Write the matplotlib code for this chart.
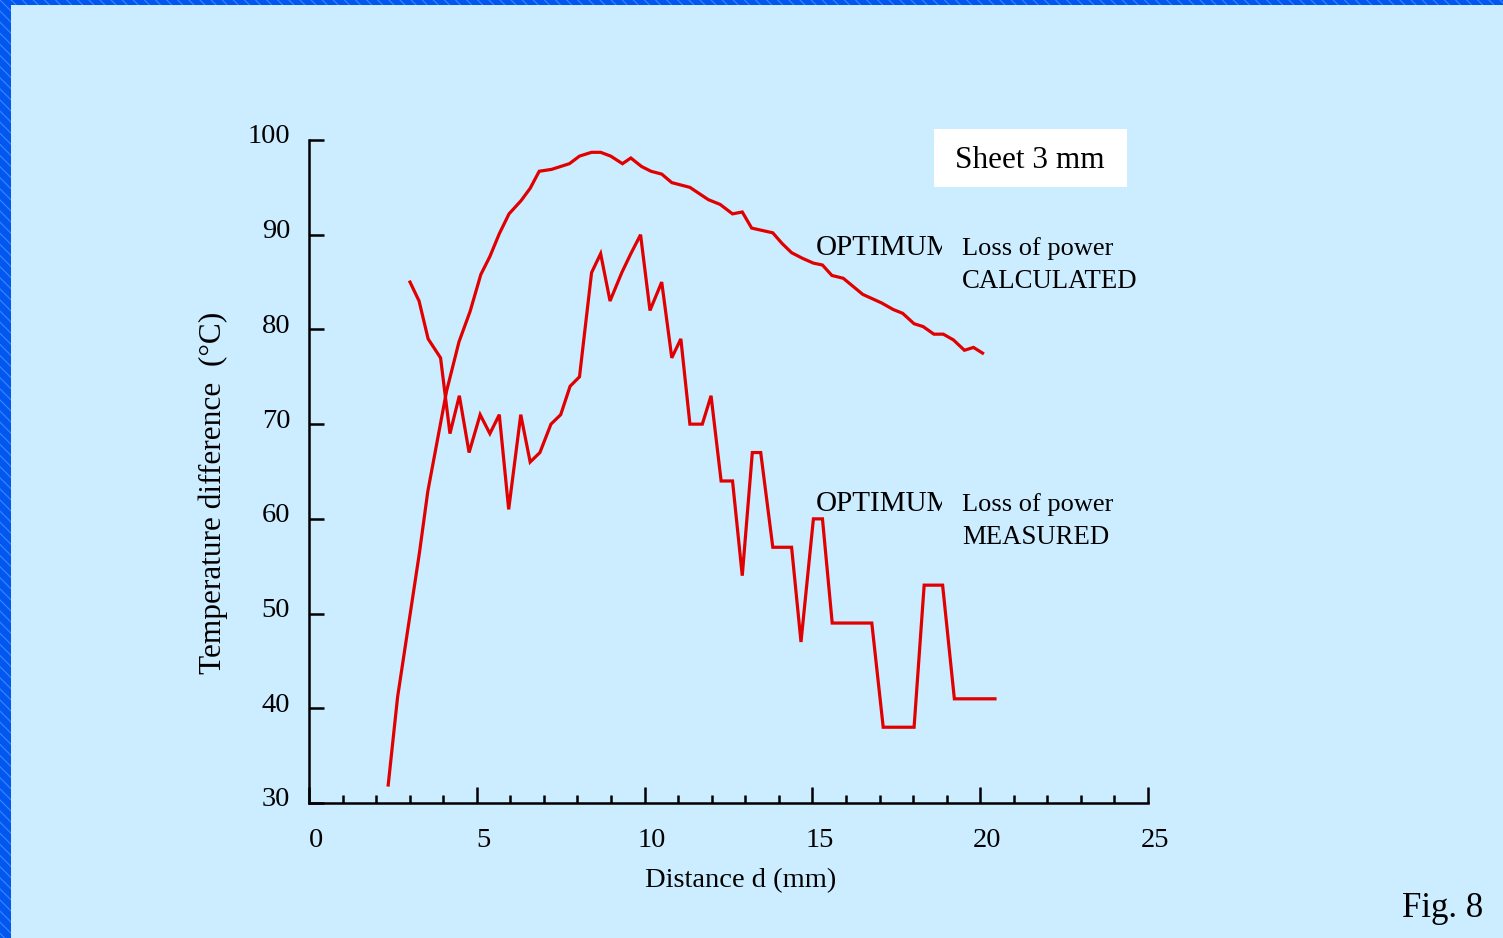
import matplotlib
matplotlib.use("Agg")
import matplotlib.pyplot as plt
from matplotlib.patches import Rectangle
from matplotlib.transforms import ScaledTranslation, Bbox

# valores
calc_x = [2.36, 2.64, 3.29, 3.54, 4.1, 4.47, 4.80, 5.12, 5.39, 5.67, 5.96, 6.32, 6.59,
          6.86, 7.23, 7.76, 8.06, 8.42, 8.69, 8.99, 9.34, 9.59, 9.91, 10.19, 10.51,
          10.81, 11.35, 11.9, 12.25, 12.62, 12.91, 13.19, 13.82, 14.09, 14.38, 14.71,
          15.03, 15.3, 15.58, 15.92, 16.5, 17.06, 17.41, 17.69, 18.03, 18.30, 18.62,
          18.9, 19.2, 19.53, 19.8, 20.07]
calc_y = [31.9, 41.2, 56.4, 62.9, 73.5, 78.7, 81.9, 85.8, 87.7, 90.1, 92.2, 93.6, 94.9,
          96.7, 96.9, 97.5, 98.3, 98.7, 98.7, 98.3, 97.5, 98.1, 97.2, 96.7, 96.4,
          95.5, 95.0, 93.7, 93.2, 92.2, 92.4, 90.7, 90.2, 89.1, 88.1, 87.5,
          87.0, 86.8, 85.7, 85.4, 83.7, 82.8, 82.1, 81.7, 80.6, 80.3, 79.5,
          79.5, 78.9, 77.8, 78.1, 77.5]

meas_x = [3.01, 3.28, 3.55, 3.92, 4.2, 4.48, 4.77, 5.1, 5.39, 5.67, 5.95, 6.31, 6.59,
          6.88, 7.21, 7.5, 7.78, 8.06, 8.42, 8.69, 8.97, 9.32, 9.59, 9.88, 10.16,
          10.51, 10.81, 11.08, 11.35, 11.72, 11.98, 12.28, 12.62, 12.91, 13.21, 13.46,
          13.82, 14.38, 14.66, 15.03, 15.3, 15.59, 16.77, 17.11, 18.03, 18.33, 18.88,
          19.23, 20.44]
meas_y = [85, 83, 79, 77, 69, 73, 67, 71, 69, 71, 61, 71, 66,
          67, 70, 71, 74, 75, 86, 88, 83, 86, 88, 90, 82,
          85, 77, 79, 70, 70, 73, 64, 64, 54, 67, 67,
          57, 57, 47, 60, 60, 49, 49, 38, 38, 53, 53,
          41, 41]

x_ticks = [0, 5, 10, 15, 20, 25]
y_ticks = [30, 40, 50, 60, 70, 80, 90, 100]

plt.rcParams["font.family"] = ["Liberation Serif", "DejaVu Serif"]
plt.rcParams["hatch.color"] = "#3f84ff"
plt.rcParams["hatch.linewidth"] = 0.8

W, H = 1503, 938
fig = plt.figure(figsize=(W / 100, H / 100), dpi=100, facecolor="#ccecff")

# moldura azul (esquerda e topo)
fig.patches.append(Rectangle((0, 0), 11 / W, 1, transform=fig.transFigure,
                             facecolor="#0058f0", hatch="\\\\\\", linewidth=0, zorder=0))
fig.patches.append(Rectangle((0, 1 - 5 / H), 1, 5 / H, transform=fig.transFigure,
                             facecolor="#0058f0", hatch="\\\\\\", linewidth=0, zorder=0))

ax = fig.add_axes([309 / W, 1 - 803 / H, 839 / W, 663 / H])
ax.set_facecolor("none")

ax.plot(calc_x, calc_y, color="#e00000", lw=2.3, solid_joinstyle="miter")
ax.plot(meas_x, meas_y, color="#e00000", lw=2.3, solid_joinstyle="miter")

ax.set_xlim(0, 25)
ax.set_ylim(30, 100)
ax.set_xticks(x_ticks)
ax.set_xticks(range(0, 26), minor=True)
ax.set_yticks(y_ticks)
ax.set_xticklabels([str(v) for v in x_ticks])
ax.set_yticklabels([str(v) for v in y_ticks])

for s in ["top", "right"]:
    ax.spines[s].set_visible(False)
for s in ["left", "bottom"]:
    ax.spines[s].set_linewidth(1.8)

ax.tick_params(axis="x", which="major", direction="in", length=11.5, width=1.8,
               labelsize=20.5, pad=18)
ax.tick_params(axis="x", which="minor", direction="in", length=5.8, width=1.8)
ax.tick_params(axis="y", which="major", direction="in", length=10.8, width=1.8,
               labelsize=20.5, pad=13.5)

for lab in ax.get_xticklabels():
    lab.set_transform(lab.get_transform() + ScaledTranslation(0.07, 0, fig.dpi_scale_trans))
for lab in ax.get_yticklabels():
    lab.set_transform(lab.get_transform() + ScaledTranslation(0, 0.06, fig.dpi_scale_trans))

ax.set_xlabel("Distance d (mm)", fontsize=20.5)
ax.xaxis.set_label_coords(0.514, -0.098)
ax.set_ylabel("Temperature difference  (°C)", fontsize=22.5)
ax.yaxis.set_label_coords(-0.097, 0.468)

# caixa "Sheet 3 mm"
fig.patches.append(Rectangle((934 / W, 1 - 187 / H), 193 / W, 58 / H,
                             transform=fig.transFigure, facecolor="white",
                             linewidth=0, zorder=1))
fig.text(1030 / W, 1 - 160 / H, "Sheet 3 mm", fontsize=22.5, ha="center", va="center")

# rótulos das curvas (OPTIMUM cortado à direita, como no original)
clip = Bbox.from_extents(0, 0, 942, H)
for yc in [248, 504]:
    t = fig.text(816 / W, 1 - yc / H, "OPTIMUM", fontsize=21, ha="left", va="center")
    t.set_clip_box(clip)
    t.set_clip_on(True)
fig.text(962 / W, 1 - 249 / H, "Loss of power", fontsize=19, ha="left", va="center")
fig.text(962 / W, 1 - 281 / H, "CALCULATED", fontsize=19.3, ha="left", va="center")
fig.text(962 / W, 1 - 505 / H, "Loss of power", fontsize=19, ha="left", va="center")
fig.text(962 / W, 1 - 537 / H, "MEASURED", fontsize=19.3, ha="left", va="center")

fig.text(1483 / W, 1 - 908 / H, "Fig. 8", fontsize=25, ha="right", va="center")

fig.savefig("out.png", dpi=100, facecolor=fig.get_facecolor())
